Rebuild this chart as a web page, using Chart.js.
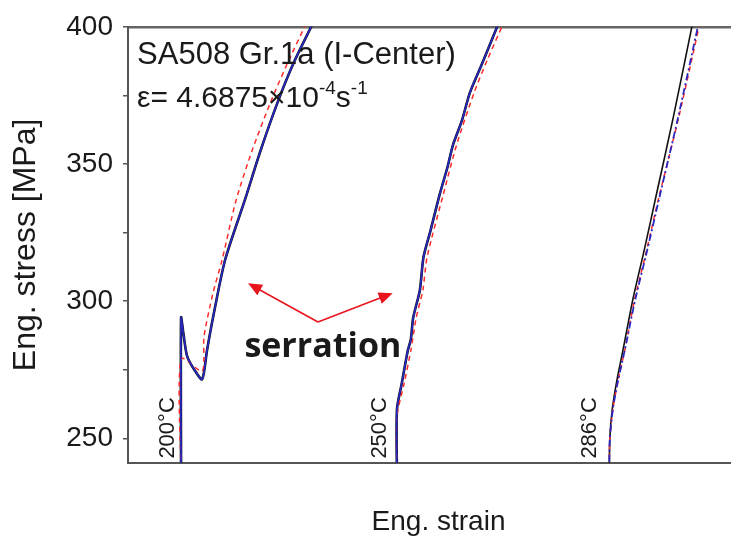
<!DOCTYPE html>
<html>
<head>
<meta charset="utf-8">
<script src="https://cdn.jsdelivr.net/npm/chart.js@4.4.1/dist/chart.umd.min.js"></script>
<style>
  html, body { margin: 0; padding: 0; background: #fff; }
</style>
</head>
<body>
<canvas id="stressChart" width="731" height="546"></canvas>
<script>
// strain is in arbitrary units (the original has no strain tick labels)
const strain200 = [8.8, 8.8, 9.2, 9.8, 11.0, 12.3, 13.1, 14.1, 16.1, 19.4, 22.0, 24.9, 27.5, 30.6];
const stress200 = [236, 294, 288, 280, 275, 271.5, 282, 294, 315, 337, 355, 373, 387, 401];
const strain200Fit = [8.8, 8.8, 12.3, 12.6, 14.1, 15.6, 17.9, 20.6, 23.7, 26.3, 29.5];
const stress200Fit = [236, 279, 274.5, 287, 303, 315, 336.6, 355, 372.8, 386, 401];

const strain250 = [44.6, 44.6, 45.4, 46.4, 46.9, 47.3, 48.4, 49.0, 50.2, 51.7, 53.0, 53.9, 55.4, 56.7, 58.8, 61.4];
const stress250 = [236, 260.5, 270, 282, 286, 294, 304, 316, 326, 339, 349, 357, 366, 376, 387, 401];
const strain250Fit = [44.6, 44.6, 45.8, 46.9, 47.8, 48.9, 49.6, 52.3, 54.5, 57.4, 59.6, 62.2];
const stress250Fit = [236, 258, 270, 282, 294, 304, 316, 339, 357, 376, 388, 401];

const strain286 = [79.8, 79.9, 80.3, 81.1, 82.1, 83.7, 85.6, 87.4, 90.4, 93.6];
const stress286 = [236, 249.6, 260.5, 271.4, 282.3, 300.4, 318.5, 336.6, 366.7, 401];
const strain286Sim = [79.8, 79.9, 80.4, 81.3, 82.4, 84.1, 86.1, 88.0, 91.2, 94.6];
const strain286Fit = [79.8, 79.9, 80.4, 81.3, 82.4, 84.0, 86.0, 87.9, 91.3, 94.8];

const stressTicks = [250, 275, 300, 325, 350, 375, 400];

const tempLabels = ['200°C', '250°C', '286°C'];
const tempLabelStrain = [6.3, 41.5, 76.3];

const FONT = "'Liberation Sans', Arial, sans-serif";

function pts(xs, ys) {
    return xs.map((v, i) => ({ x: v, y: ys[i] }));
}

function line(data, color, width, dash, order) {
    return {
        data: data,
        borderColor: color,
        borderWidth: width,
        borderDash: dash || [],
        pointRadius: 0,
        showLine: true,
        fill: false,
        tension: 0.25,
        order: order
    };
}

function arrow(ctx, x1, y1, x2, y2) {
    const a = Math.atan2(y2 - y1, x2 - x1);
    ctx.beginPath();
    ctx.moveTo(x1, y1);
    ctx.lineTo(x2 - 8 * Math.cos(a), y2 - 8 * Math.sin(a));
    ctx.stroke();
    ctx.beginPath();
    ctx.moveTo(x2, y2);
    ctx.lineTo(x2 - 14 * Math.cos(a) + 6 * Math.sin(a), y2 - 14 * Math.sin(a) - 6 * Math.cos(a));
    ctx.lineTo(x2 - 14 * Math.cos(a) - 6 * Math.sin(a), y2 - 14 * Math.sin(a) + 6 * Math.cos(a));
    ctx.closePath();
    ctx.fill();
}

// text and arrows on top of the curves
const notesPlugin = {
    id: 'notes',
    afterDatasetsDraw(chart) {
        const { ctx, scales: { x, y } } = chart;
        ctx.save();
        ctx.fillStyle = '#1a1a1a';
        ctx.textBaseline = 'alphabetic';
        ctx.textAlign = 'left';

        // header lines
        let px = x.getPixelForValue(1.5);
        ctx.font = '31px ' + FONT;
        ctx.fillText('SA508 Gr.1a (I-Center)', px, y.getPixelForValue(386.6));

        let by = y.getPixelForValue(370.8);
        const parts = [['ε= 4.6875×10', 0, 30], ['-4', -13, 19], ['s', 0, 30], ['-1', -13, 19]];
        parts.forEach(p => {
            ctx.font = p[2] + 'px ' + FONT;
            ctx.fillText(p[0], px, by + p[1]);
            px += ctx.measureText(p[0]).width;
        });

        // serration note with arrows
        ctx.font = "bold 34px 'Open Sans', 'Noto Sans', sans-serif";
        ctx.fillText('serration', x.getPixelForValue(19.3), y.getPixelForValue(279.6));

        ctx.strokeStyle = '#e8141e';
        ctx.fillStyle = '#e8141e';
        ctx.lineWidth = 1.6;
        const tx = x.getPixelForValue(31.5), ty = y.getPixelForValue(292.4);
        arrow(ctx, tx, ty, x.getPixelForValue(19.9), y.getPixelForValue(306.5));
        arrow(ctx, tx, ty, x.getPixelForValue(43.9), y.getPixelForValue(302.9));

        // temperature labels, rotated
        ctx.fillStyle = '#1a1a1a';
        ctx.font = '22px ' + FONT;
        tempLabels.forEach((t, i) => {
            ctx.save();
            ctx.translate(x.getPixelForValue(tempLabelStrain[i]) + 8, y.getPixelForValue(242.6));
            ctx.rotate(-Math.PI / 2);
            ctx.fillText(t, 0, 0);
            ctx.restore();
        });

        // x axis title, sits a bit right of the axis centre in the original
        ctx.font = '28px ' + FONT;
        ctx.textAlign = 'center';
        ctx.textBaseline = 'middle';
        ctx.fillText('Eng. strain', x.getPixelForValue(51.5), x.bottom - 24);
        ctx.restore();
    }
};

const ctx = document.getElementById('stressChart').getContext('2d');
const stressChart = new Chart(ctx, {
    type: 'scatter',
    data: {
        datasets: [
            line(pts(strain200, stress200), '#111111', 2.6, [], 5),
            line(pts(strain200Fit, stress200Fit), '#ff2a2a', 1.5, [5, 4], 4),
            line(pts(strain200, stress200), '#2828c0', 1.7, [], 1),
            line(pts(strain250, stress250), '#111111', 2.6, [], 5),
            line(pts(strain250Fit, stress250Fit), '#ff2a2a', 1.5, [5, 4], 4),
            line(pts(strain250, stress250), '#2828c0', 1.7, [], 1),
            line(pts(strain286, stress286), '#111111', 1.6, [], 3),
            line(pts(strain286Fit, stress286), '#ff2a2a', 1.5, [5, 4], 2),
            line(pts(strain286Sim, stress286), '#2828c0', 1.8, [7, 3, 2, 3], 1)
        ]
    },
    options: {
        responsive: false,
        animation: false,
        layout: { padding: { top: 25, right: 0, bottom: 0, left: 0 } },
        plugins: {
            legend: { display: false },
            tooltip: { enabled: false }
        },
        scales: {
            x: {
                type: 'linear',
                min: 0,
                max: 100,
                ticks: { display: false },
                grid: { display: false },
                border: { color: '#555555', width: 2 },
                title: { display: false },
                afterFit: s => { s.height = 83; }
            },
            xTop: {
                type: 'linear',
                position: 'top',
                min: 0,
                max: 100,
                ticks: { display: false },
                grid: { display: false },
                border: { color: '#666666', width: 2.5 },
                afterFit: s => { s.height = 0; }
            },
            y: {
                min: 241,
                max: 400,
                afterBuildTicks: s => { s.ticks = stressTicks.map(v => ({ value: v })); },
                ticks: {
                    autoSkip: false,
                    callback: v => (v % 50 === 0 ? v : ''),
                    color: '#1a1a1a',
                    font: { size: 28, family: FONT },
                    padding: 10
                },
                grid: { drawOnChartArea: false, tickLength: 5, color: '#555555', lineWidth: 1.5 },
                border: { color: '#555555', width: 2 },
                title: {
                    display: true,
                    text: 'Eng. stress [MPa]',
                    color: '#1a1a1a',
                    font: { size: 32, family: FONT },
                    padding: { top: 7, bottom: 0 }
                },
                afterFit: s => { s.width = 128; }
            }
        }
    },
    plugins: [notesPlugin]
});
</script>
</body>
</html>
